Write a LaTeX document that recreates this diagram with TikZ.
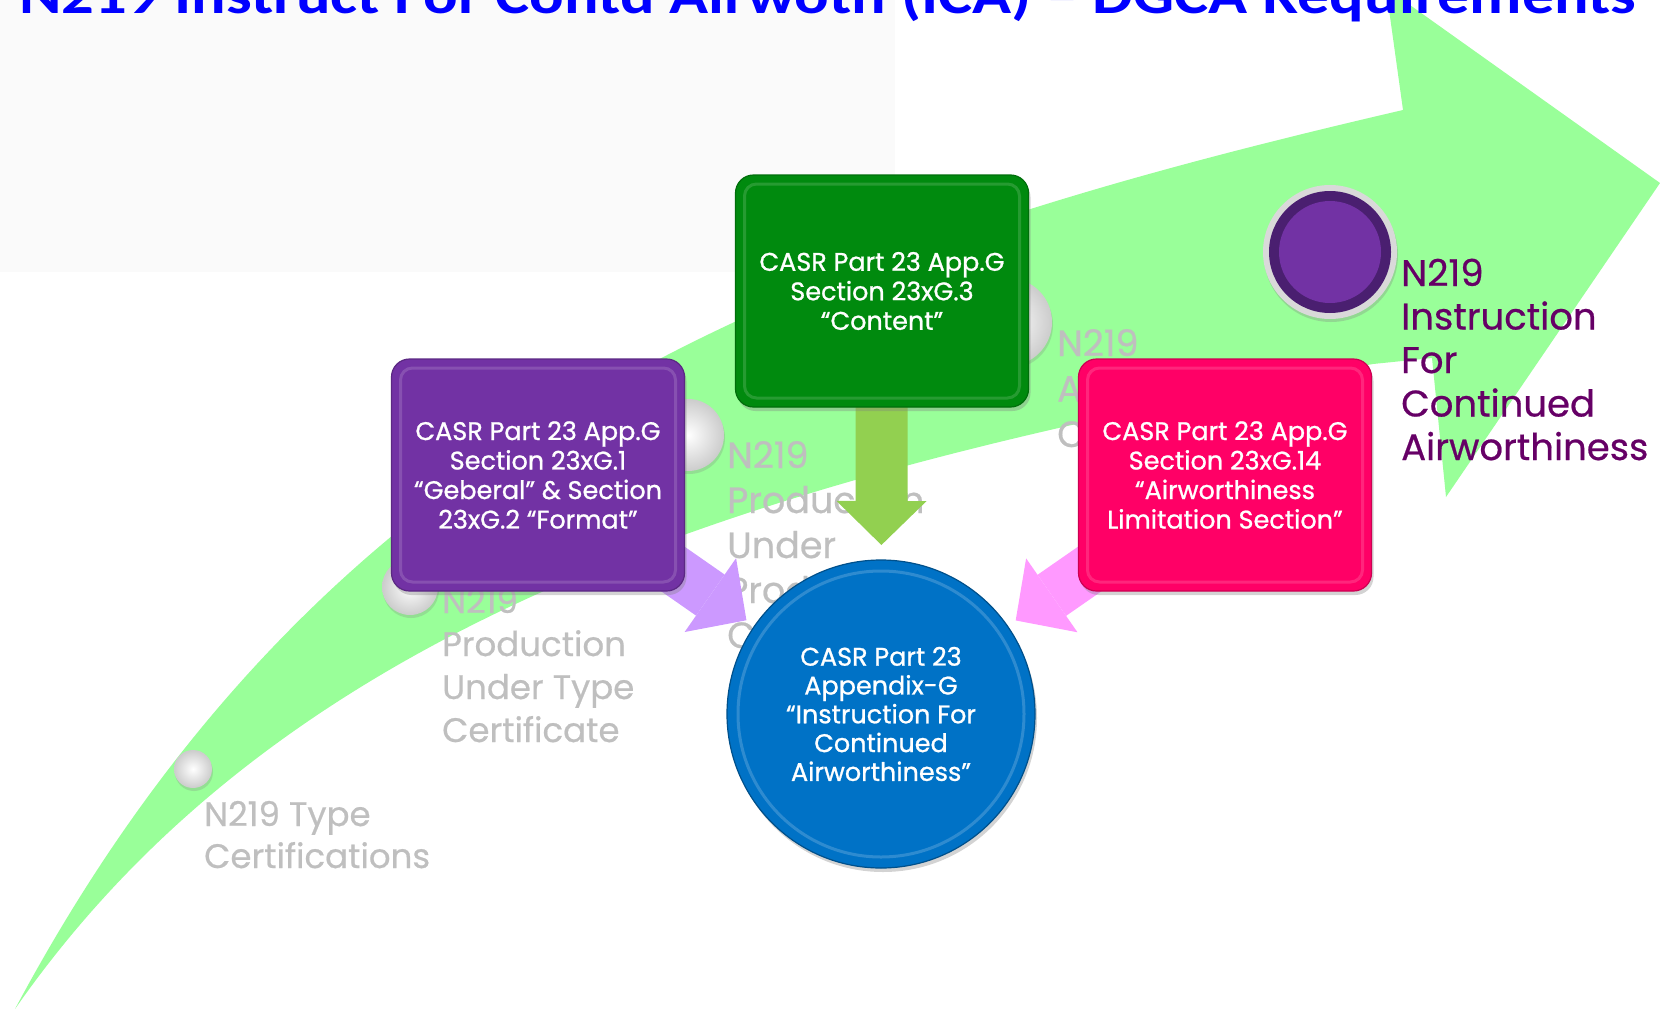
\documentclass[tikz,border=0pt]{standalone}
\usepackage{fontspec}
\usepackage{graphicx}
\setmainfont{Poppins}
\newfontfamily\cardfont{Poppins}[FakeBold=0.9]
\newfontfamily\notefont{Poppins}[FakeBold=0.6]
\newfontfamily\titlefont{Carlito}
\usetikzlibrary{positioning,calc,arrows.meta,shadows}

\definecolor{bandgreen}{HTML}{99FF99}
\definecolor{titleblue}{HTML}{0000FF}
\definecolor{boxpurple}{HTML}{7232A4}
\definecolor{boxgreen}{HTML}{008A0E}
\definecolor{boxpink}{HTML}{FF0066}
\definecolor{hubblue}{HTML}{0072C6}
\definecolor{arrowgreen}{HTML}{92D050}
\definecolor{arrowlilac}{HTML}{CC99FF}
\definecolor{arrowpink}{HTML}{FF99FF}
\definecolor{stonegray}{HTML}{BFBFBF}
\definecolor{plum}{HTML}{660066}
\definecolor{dotpurple}{HTML}{4A1F70}

\pgfdeclarelayer{backdrop}
\pgfdeclarelayer{links}
\pgfsetlayers{backdrop,links,main}

\begin{document}
\begin{tikzpicture}[
		x=1pt,y=-1pt,
		card/.style={
			draw=#1!80!black,
			line width=1.2pt,
			fill=#1,
			rounded corners=18pt,
			minimum width=293pt,
			minimum height=232pt,
			text=white,
			align=center,
			font=\cardfont\fontsize{25.5}{29.5}\selectfont,
			drop shadow={opacity=0.35,shadow xshift=2pt,shadow yshift=-4pt},
			path picture={\draw[white,opacity=0.15,line width=3pt,rounded corners=12pt]
				([shift={(9pt,-9pt)}]path picture bounding box.north west) rectangle
				([shift={(-9pt,9pt)}]path picture bounding box.south east);}
		},
		hub/.style={
			circle,
			draw=hubblue!70!black,
			line width=1.2pt,
			fill=hubblue,
			minimum size=308pt,
			inner sep=0,
			text=white,
			align=center,
			font=\cardfont\fontsize{25.5}{28.8}\selectfont,
			drop shadow={opacity=0.35,shadow xshift=2pt,shadow yshift=-4pt},
			path picture={\draw[white,opacity=0.18,line width=3pt]
				(path picture bounding box.center) circle[radius=143pt];}
		},
		stone/.style={circle,inner sep=0,shading=radial,inner color=white,outer color=gray!40,
			drop shadow={opacity=0.25,shadow xshift=1pt,shadow yshift=-3pt}},
		note/.style={text=stonegray,inner sep=0,align=left,anchor=base west},
		flow/.style={line width=50pt,-{Triangle[length=44pt,width=90pt,line width=0pt]}}
		]
		\useasboundingbox (0,0) rectangle (1660,1009);
		\clip (0,0) rectangle (1660,1009);
		% Blocks
		\node[card=boxgreen] (cont) at (882,291) {CASR Part 23 App.G\\Section 23xG.3\\“Content”};
		\node[card=boxpurple] (gen) at (538,475) {CASR Part 23 App.G\\Section 23xG.1\\“Geberal” \& Section\\23xG.2 “Format”};
		\node[card=boxpink] (lim) at (1225,475) {CASR Part 23 App.G\\Section 23xG.14\\“Airworthiness\\Limitation Section”};
		\node[hub] (ica) at (881,714) {CASR Part 23\\Appendix-G\\“Instruction For\\Continued\\Airworthiness”};
		% Block -> hub
		\begin{pgfonlayer}{links}
			\draw[flow,arrowgreen,line width=52pt] (cont.center) -- ($(ica.center)!169pt!(cont.center)$);
			\draw[flow,arrowlilac] (gen.center) -- ($(ica.center)!164pt!(gen.center)$);
			\draw[flow,arrowpink] (lim.center) -- ($(ica.center)!164pt!(lim.center)$);
		\end{pgfonlayer}
		\begin{pgfonlayer}{backdrop}
			\fill[black!2] (0,0) rectangle (895,272);
			% Big arrow
			\fill[bandgreen] (15,1009) .. controls (330,420) and (800,250) .. (1403,110)
				-- (1386,-12) -- (1660,183) -- (1446,497) -- (1432,358) -- (1373,364)
				.. controls (800,470) and (300,600) .. (15,1009) -- cycle;
			\node[anchor=base west,inner sep=0,text=titleblue,font=\titlefont\bfseries\fontsize{54}{54}\selectfont] (title) at (19,13)
				{\resizebox{1617pt}{\height}{N219 Instruct For Contd Airwoth (ICA) – DGCA Requirements}};
			% Milestones
			\foreach \nm/\px/\py/\rad in {m1/193/769/19,m2/410/587/28,m3/688/435/36,m4/1008/322/44}
				\node[stone,minimum size=\rad*2pt] (\nm) at (\px,\py) {};
			\node[circle,minimum size=134pt,inner sep=0,fill=gray!30,
				drop shadow={opacity=0.3,shadow xshift=1pt,shadow yshift=-3pt},
				path picture={\fill[dotpurple] (path picture bounding box.center) circle[radius=61pt];
					\fill[boxpurple] (path picture bounding box.center) circle[radius=51pt];}] (m5) at (1330,252) {};
			% Milestone labels (anchored on their last line)
			\node[note,font=\notefont\fontsize{34}{42}\selectfont] (n1) at (204,868) {N219 Type\\Certifications};
			\node[note,font=\notefont\fontsize{34}{43}\selectfont] (n2) at (442,742) {N219\\Production\\Under Type\\Certificate};
			\node[note,font=\notefont\fontsize{36.5}{45}\selectfont] (n3) at (727,648) {N219\\Production\\Under\\Production\\Certificate};
			\node[note,font=\notefont\fontsize{36.5}{45.5}\selectfont] (n4) at (1057,447) {N219\\Airworthiness\\Certificate};
			\node[note,text=plum,font=\notefont\fontsize{37}{43.5}\selectfont] (n5) at (1401,460) {N219\\Instruction\\For\\Continued\\Airworthiness};
		\end{pgfonlayer}
\end{tikzpicture}
\end{document}
